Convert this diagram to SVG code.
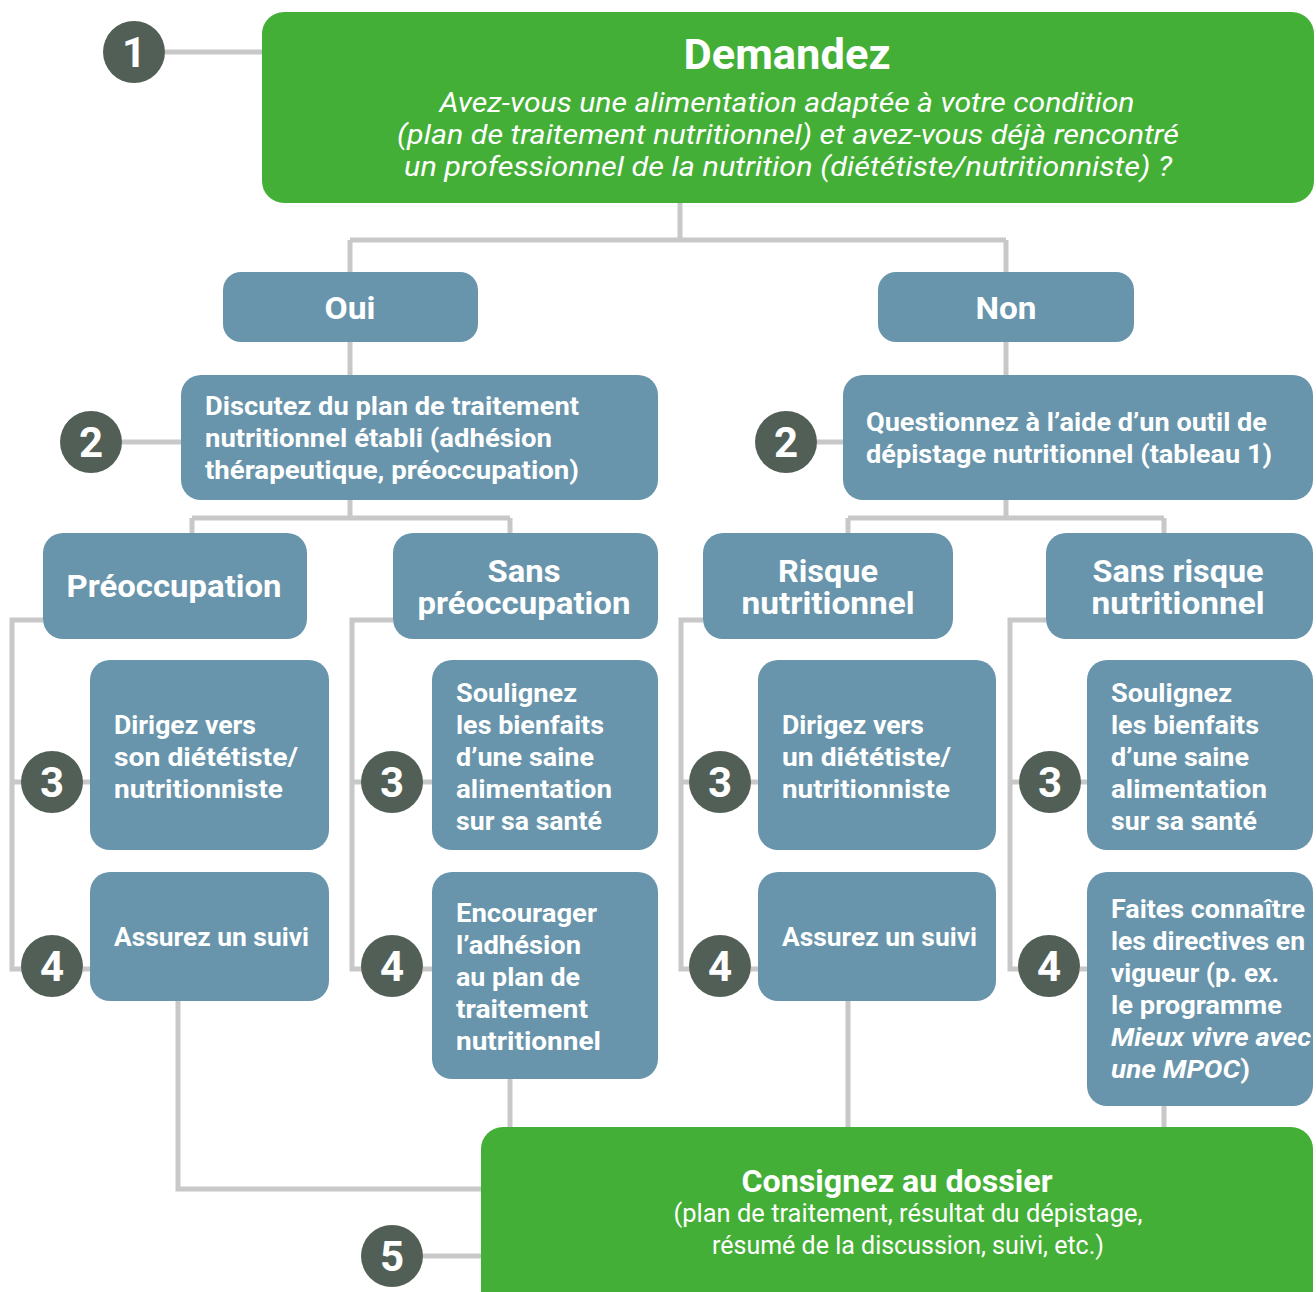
<svg xmlns="http://www.w3.org/2000/svg" width="1316" height="1292" viewBox="0 0 1316 1292">
<style>
.g{fill:#44AF36}
.b{fill:#6895AB}
.c{fill:#515F57}
.ln{fill:none;stroke:#C8C8C8;stroke-width:5}
text{font-family:Roboto,"Liberation Sans",sans-serif;fill:#fff}
.h{font-weight:700}
.t{font-size:26px;font-weight:700}
.n{font-size:42px;font-weight:700;text-anchor:middle}
.m{text-anchor:middle}
.i{font-style:italic}
</style>
<rect width="1316" height="1292" fill="#fff"/>
<g id="connectors">
<path class="ln" d="M165 52H262"/>
<path class="ln" d="M680 203V240M350 240H1006M350 240V272M1006 240V272"/>
<path class="ln" d="M350 342V375M1006 342V375"/>
<path class="ln" d="M122 442H181M817 442H843"/>
<path class="ln" d="M350 500V518M192 518H510M192 518V533M510 518V533"/>
<path class="ln" d="M1006 500V518M848 518H1164M848 518V533M1164 518V533"/>
<path class="ln" d="M43 620H12V969H22M12 782H90M12 782H22M83 969H90"/>
<path class="ln" d="M393 620H352V969H362M352 782H432M423 969H432"/>
<path class="ln" d="M703 620H681V969H690M681 782H758M751 969H758"/>
<path class="ln" d="M1046 620H1010V969H1019M1010 782H1087M1080 969H1087"/>
<path class="ln" d="M178 1001V1189H481"/>
<path class="ln" d="M510 1079V1127M848 1001V1127M1164 1106V1127"/>
<path class="ln" d="M423 1256H481"/>
</g>
<g id="n1">
<circle class="c" cx="134" cy="52" r="31"/>
<text class="n" x="134" y="67">1</text>
</g>
<g id="demandez">
<rect class="g" x="262" y="12" width="1052" height="191" rx="22"/>
<text class="h m" x="787" y="69" font-size="42" textLength="207" lengthAdjust="spacingAndGlyphs">Demandez</text>
<text class="i m" x="787" y="112" font-size="28" textLength="695" lengthAdjust="spacingAndGlyphs">Avez-vous une alimentation adaptée à votre condition</text>
<text class="i m" x="788" y="144" font-size="28" textLength="782" lengthAdjust="spacingAndGlyphs">(plan de traitement nutritionnel) et avez-vous déjà rencontré</text>
<text class="i m" x="788" y="176" font-size="28" textLength="768" lengthAdjust="spacingAndGlyphs">un professionnel de la nutrition (diététiste/nutritionniste) ?</text>
</g>
<g id="oui">
<rect class="b" x="223" y="272" width="255" height="70" rx="18"/>
<text class="h m" x="350" y="319" font-size="32" textLength="51" lengthAdjust="spacingAndGlyphs">Oui</text>
</g>
<g id="non">
<rect class="b" x="878" y="272" width="256" height="70" rx="18"/>
<text class="h m" x="1006" y="319" font-size="32" textLength="61" lengthAdjust="spacingAndGlyphs">Non</text>
</g>
<g id="n2a">
<circle class="c" cx="91" cy="442" r="31"/>
<text class="n" x="91" y="457">2</text>
</g>
<g id="discutez">
<rect class="b" x="181" y="375" width="477" height="125" rx="20"/>
<text class="t" x="205" y="415" textLength="374" lengthAdjust="spacingAndGlyphs">Discutez du plan de traitement</text>
<text class="t" x="205" y="447" textLength="347" lengthAdjust="spacingAndGlyphs">nutritionnel établi (adhésion</text>
<text class="t" x="205" y="479" textLength="374" lengthAdjust="spacingAndGlyphs">thérapeutique, préoccupation)</text>
</g>
<g id="n2b">
<circle class="c" cx="786" cy="442" r="31"/>
<text class="n" x="786" y="457">2</text>
</g>
<g id="questionnez">
<rect class="b" x="843" y="375" width="470" height="125" rx="20"/>
<text class="t" x="866" y="431" textLength="401" lengthAdjust="spacingAndGlyphs">Questionnez à l’aide d’un outil de</text>
<text class="t" x="866" y="463" textLength="406" lengthAdjust="spacingAndGlyphs">dépistage nutritionnel (tableau 1)</text>
</g>
<g id="preoccupation">
<rect class="b" x="43" y="533" width="264" height="106" rx="20"/>
<text class="h m" x="174" y="597" font-size="32" textLength="215" lengthAdjust="spacingAndGlyphs">Préoccupation</text>
</g>
<g id="sans-preoccupation">
<rect class="b" x="393" y="533" width="265" height="106" rx="20"/>
<text class="h m" x="524" y="582" font-size="32" textLength="73" lengthAdjust="spacingAndGlyphs">Sans</text>
<text class="h m" x="524" y="614" font-size="32" textLength="213" lengthAdjust="spacingAndGlyphs">préoccupation</text>
</g>
<g id="risque">
<rect class="b" x="703" y="533" width="250" height="106" rx="20"/>
<text class="h m" x="828" y="582" font-size="32" textLength="100" lengthAdjust="spacingAndGlyphs">Risque</text>
<text class="h m" x="828" y="614" font-size="32" textLength="173" lengthAdjust="spacingAndGlyphs">nutritionnel</text>
</g>
<g id="sans-risque">
<rect class="b" x="1046" y="533" width="267" height="106" rx="20"/>
<text class="h m" x="1178" y="582" font-size="32" textLength="171" lengthAdjust="spacingAndGlyphs">Sans risque</text>
<text class="h m" x="1178" y="614" font-size="32" textLength="173" lengthAdjust="spacingAndGlyphs">nutritionnel</text>
</g>
<g id="n3a"><circle class="c" cx="52" cy="782" r="31"/><text class="n" x="52" y="797">3</text></g>
<g id="n4a"><circle class="c" cx="52" cy="966" r="31"/><text class="n" x="52" y="981">4</text></g>
<g id="n3b"><circle class="c" cx="392" cy="782" r="31"/><text class="n" x="392" y="797">3</text></g>
<g id="n4b"><circle class="c" cx="392" cy="966" r="31"/><text class="n" x="392" y="981">4</text></g>
<g id="n3c"><circle class="c" cx="720" cy="782" r="31"/><text class="n" x="720" y="797">3</text></g>
<g id="n4c"><circle class="c" cx="720" cy="966" r="31"/><text class="n" x="720" y="981">4</text></g>
<g id="n3d"><circle class="c" cx="1050" cy="782" r="31"/><text class="n" x="1050" y="797">3</text></g>
<g id="n4d"><circle class="c" cx="1049" cy="966" r="31"/><text class="n" x="1049" y="981">4</text></g>
<g id="dirigez-son">
<rect class="b" x="90" y="660" width="239" height="190" rx="20"/>
<text class="t" x="114" y="734" textLength="142" lengthAdjust="spacingAndGlyphs">Dirigez vers</text>
<text class="t" x="114" y="766" textLength="184" lengthAdjust="spacingAndGlyphs">son diététiste/</text>
<text class="t" x="114" y="798" textLength="169" lengthAdjust="spacingAndGlyphs">nutritionniste</text>
</g>
<g id="assurez-a">
<rect class="b" x="90" y="872" width="239" height="129" rx="20"/>
<text class="t" x="114" y="946" textLength="195" lengthAdjust="spacingAndGlyphs">Assurez un suivi</text>
</g>
<g id="soulignez-a">
<rect class="b" x="432" y="660" width="226" height="190" rx="20"/>
<text class="t" x="456" y="702" textLength="121" lengthAdjust="spacingAndGlyphs">Soulignez</text>
<text class="t" x="456" y="734" textLength="148" lengthAdjust="spacingAndGlyphs">les bienfaits</text>
<text class="t" x="456" y="766" textLength="138" lengthAdjust="spacingAndGlyphs">d’une saine</text>
<text class="t" x="456" y="798" textLength="156" lengthAdjust="spacingAndGlyphs">alimentation</text>
<text class="t" x="456" y="830" textLength="146" lengthAdjust="spacingAndGlyphs">sur sa santé</text>
</g>
<g id="encourager">
<rect class="b" x="432" y="872" width="226" height="207" rx="20"/>
<text class="t" x="456" y="922" textLength="141" lengthAdjust="spacingAndGlyphs">Encourager</text>
<text class="t" x="456" y="954" textLength="125" lengthAdjust="spacingAndGlyphs">l’adhésion</text>
<text class="t" x="456" y="986" textLength="124" lengthAdjust="spacingAndGlyphs">au plan de</text>
<text class="t" x="456" y="1018" textLength="132" lengthAdjust="spacingAndGlyphs">traitement</text>
<text class="t" x="456" y="1050" textLength="145" lengthAdjust="spacingAndGlyphs">nutritionnel</text>
</g>
<g id="dirigez-un">
<rect class="b" x="758" y="660" width="238" height="190" rx="20"/>
<text class="t" x="782" y="734" textLength="142" lengthAdjust="spacingAndGlyphs">Dirigez vers</text>
<text class="t" x="782" y="766" textLength="169" lengthAdjust="spacingAndGlyphs">un diététiste/</text>
<text class="t" x="782" y="798" textLength="168" lengthAdjust="spacingAndGlyphs">nutritionniste</text>
</g>
<g id="assurez-b">
<rect class="b" x="758" y="872" width="238" height="129" rx="20"/>
<text class="t" x="782" y="946" textLength="195" lengthAdjust="spacingAndGlyphs">Assurez un suivi</text>
</g>
<g id="soulignez-b">
<rect class="b" x="1087" y="660" width="226" height="190" rx="20"/>
<text class="t" x="1111" y="702" textLength="121" lengthAdjust="spacingAndGlyphs">Soulignez</text>
<text class="t" x="1111" y="734" textLength="148" lengthAdjust="spacingAndGlyphs">les bienfaits</text>
<text class="t" x="1111" y="766" textLength="138" lengthAdjust="spacingAndGlyphs">d’une saine</text>
<text class="t" x="1111" y="798" textLength="156" lengthAdjust="spacingAndGlyphs">alimentation</text>
<text class="t" x="1111" y="830" textLength="146" lengthAdjust="spacingAndGlyphs">sur sa santé</text>
</g>
<g id="faites">
<rect class="b" x="1087" y="872" width="226" height="234" rx="20"/>
<text class="t" x="1111" y="918" textLength="194" lengthAdjust="spacingAndGlyphs">Faites connaître</text>
<text class="t" x="1111" y="950" textLength="194" lengthAdjust="spacingAndGlyphs">les directives en</text>
<text class="t" x="1111" y="982" textLength="168" lengthAdjust="spacingAndGlyphs">vigueur (p. ex.</text>
<text class="t" x="1111" y="1014" textLength="171" lengthAdjust="spacingAndGlyphs">le programme</text>
<text class="t i" x="1111" y="1046" textLength="200" lengthAdjust="spacingAndGlyphs">Mieux vivre avec</text>
<text class="t" x="1111" y="1078" textLength="139" lengthAdjust="spacingAndGlyphs"><tspan class="i">une MPOC</tspan>)</text>
</g>
<g id="n5"><circle class="c" cx="392" cy="1256" r="31"/><text class="n" x="392" y="1271">5</text></g>
<g id="consignez">
<rect class="g" x="481" y="1127" width="832" height="190" rx="22"/>
<text class="h m" x="897" y="1192" font-size="31" textLength="311" lengthAdjust="spacingAndGlyphs">Consignez au dossier</text>
<text class="m" x="908" y="1222" font-size="25" textLength="469" lengthAdjust="spacingAndGlyphs">(plan de traitement, résultat du dépistage,</text>
<text class="m" x="908" y="1254" font-size="25" textLength="392" lengthAdjust="spacingAndGlyphs">résumé de la discussion, suivi, etc.)</text>
</g>
</svg>
